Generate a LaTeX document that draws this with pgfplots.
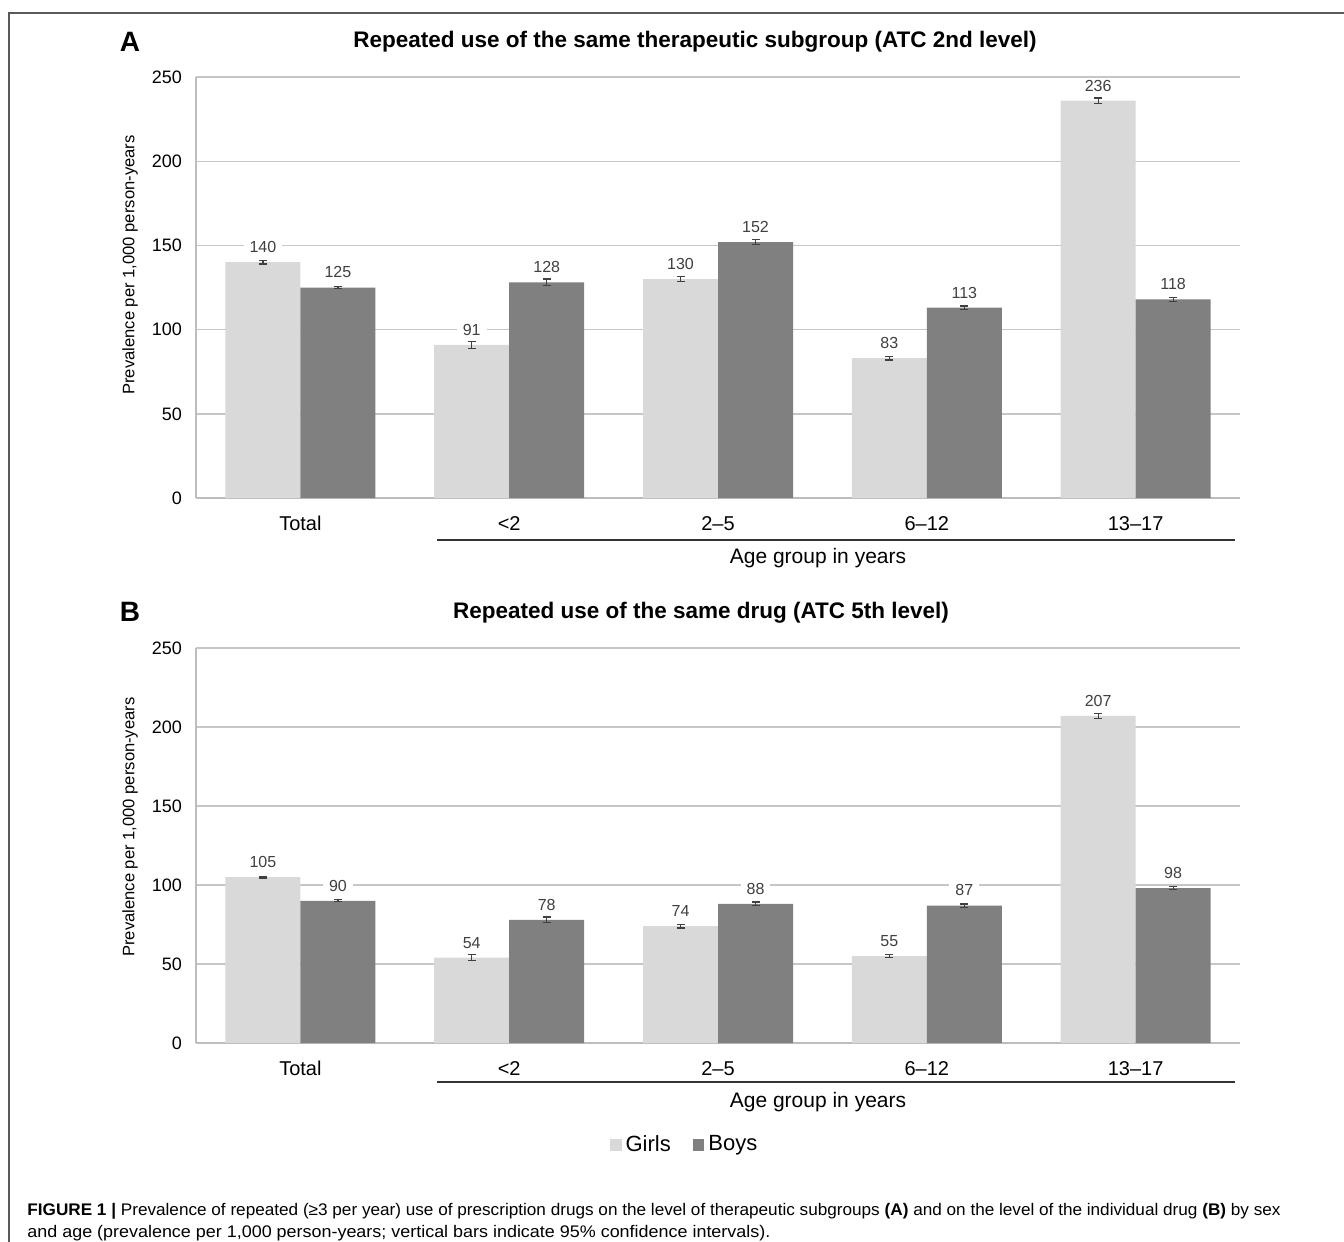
\documentclass[border=0pt]{standalone}
\usepackage{fontspec}
\setmainfont{Liberation Sans}
\usepackage{graphicx}
\usepackage{pgfplots}
\pgfplotsset{compat=1.18}
\usepackage{pgfplotstable}

\definecolor{girls}{HTML}{D9D9D9}
\definecolor{boys}{HTML}{808080}
\definecolor{gridc}{HTML}{C6C6C6}
\definecolor{axc}{HTML}{BDBDBD}
\definecolor{lab}{HTML}{404040}
\definecolor{framec}{HTML}{5A5A5A}

\pgfplotstableread{
x g ge b be
0 140 1.0 125 0.8
1 91 2.0 128 2.0
2 130 1.5 152 1.5
3 83 1.0 113 1.0
4 236 1.5 118 1.2
}\dataA

\pgfplotstableread{
x g ge b be
0 105 0.6 90 0.6
1 54 1.8 78 1.8
2 74 1.2 88 1.2
3 55 1.0 87 1.0
4 207 1.5 98 1.0
}\dataB

\pgfplotsset{
  panel/.style={
    scale only axis, width=522pt,
    xmin=-0.5, xmax=4.5, ymin=0, ymax=250,
    ytick={0,50,100,150,200,250},
    xtick={0,1,2,3,4},
    xticklabels={Total,<2,2–5,6–12,13–17},
    ymajorgrids, grid style={color=gridc, line width=0.7pt},
    axis x line*=bottom, axis y line*=left,
    axis line style={color=axc, line width=0.8pt, -},
    major tick length=0pt,
    tick style={draw=none},
    ybar=0pt, bar width=37.5pt,
    /pgf/number format/assume math mode=true,
    yticklabel style={font=\fontsize{9}{11}\selectfont, xshift=-3.5pt},
    xticklabel style={font=\fontsize{10}{12}\selectfont, yshift=-5.5pt},
    nodes near coords,
    every node near coord/.append style={font=\fontsize{8}{9.5}\selectfont, color=lab, fill=white, inner xsep=3pt, inner ysep=1pt, anchor=south, yshift=3.5pt},
  },
  ebar/.style={
    /pgfplots/error bars/y dir=both,
    /pgfplots/error bars/y explicit,
    /pgfplots/error bars/error bar style={color=lab, line width=0.6pt},
    /pgfplots/error bars/error mark options={rotate=90, color=lab, mark size=2pt, line width=0.6pt}},
  sqlegend/.style={
    /pgfplots/legend image code/.code={\fill[##1] (0pt,-2.9pt) rectangle (5.8pt,2.9pt);}},
}

\begin{document}
\begin{tikzpicture}
\useasboundingbox (0pt,0pt) rectangle (672pt,-621pt);
% frame
\draw[framec, line width=0.75pt] (672pt,-6.5pt) -- (4.5pt,-6.5pt) -- (4.5pt,-621pt);

% ---------- Panel A ----------
\begin{axis}[panel, height=210.5pt, at={(98pt,-249pt)}, anchor=south west]
\addplot[fill=girls, draw=none, ebar] table[x=x, y=g, y error=ge] {\dataA};
\addplot[fill=boys, draw=none, ebar] table[x=x, y=b, y error=be] {\dataA};
\end{axis}
\node[font=\fontsize{14}{16}\selectfont\bfseries] at (65pt,-21pt) {A};
\node[font=\fontsize{11.25}{13}\selectfont\bfseries] at (347.5pt,-21pt) {Repeated use of the same therapeutic subgroup (ATC 2nd level)};
\node[rotate=90, font=\fontsize{8.3}{10}\selectfont] at (65pt,-132.5pt) {Prevalence per 1,000 person-years};
\draw[black!80, line width=0.75pt] (218.5pt,-270pt) -- (617.5pt,-270pt);
\node[font=\fontsize{10.5}{12}\selectfont] at (409pt,-279pt) {Age group in years};

% ---------- Panel B ----------
\begin{axis}[panel, height=197.5pt, at={(98pt,-521.5pt)}, anchor=south west,
  legend style={at={(0.469,-0.258)}, anchor=center, draw=none, fill=none,
    legend columns=2, font=\fontsize{11}{13}\selectfont, inner sep=0pt,
    /tikz/every even column/.append style={column sep=9pt}}]
\addplot[fill=girls, draw=none, sqlegend, ebar]
  table[x=x, y=g, y error=ge] {\dataB};
\addlegendentry{Girls}
\addplot[fill=boys, draw=none, sqlegend, ebar]
  table[x=x, y=b, y error=be] {\dataB};
\addlegendentry{Boys}
\end{axis}
\node[font=\fontsize{14}{16}\selectfont\bfseries] at (65pt,-306pt) {B};
\node[font=\fontsize{11.25}{13}\selectfont\bfseries] at (350.5pt,-306.5pt) {Repeated use of the same drug (ATC 5th level)};
\node[rotate=90, font=\fontsize{8.3}{10}\selectfont] at (65pt,-413.5pt) {Prevalence per 1,000 person-years};
\draw[black!80, line width=0.75pt] (218.5pt,-541pt) -- (617.5pt,-541pt);
\node[font=\fontsize{10.5}{12}\selectfont] at (409pt,-551pt) {Age group in years};

% ---------- Caption ----------
\node[anchor=west, inner sep=0pt, font=\fontsize{8.4}{10}\selectfont] at (13.5pt,-605.5pt)
  {\resizebox{626.5pt}{\height}{\textbf{FIGURE 1 |} Prevalence of repeated (≥3 per year) use of prescription drugs on the level of therapeutic subgroups \textbf{(A)} and on the level of the individual drug \textbf{(B)} by sex}};
\node[anchor=west, inner sep=0pt, font=\fontsize{8.4}{10}\selectfont] at (13.5pt,-616.5pt)
  {\resizebox{371.5pt}{\height}{and age (prevalence per 1,000 person-years; vertical bars indicate 95\% confidence intervals).}};
\end{tikzpicture}
\end{document}
